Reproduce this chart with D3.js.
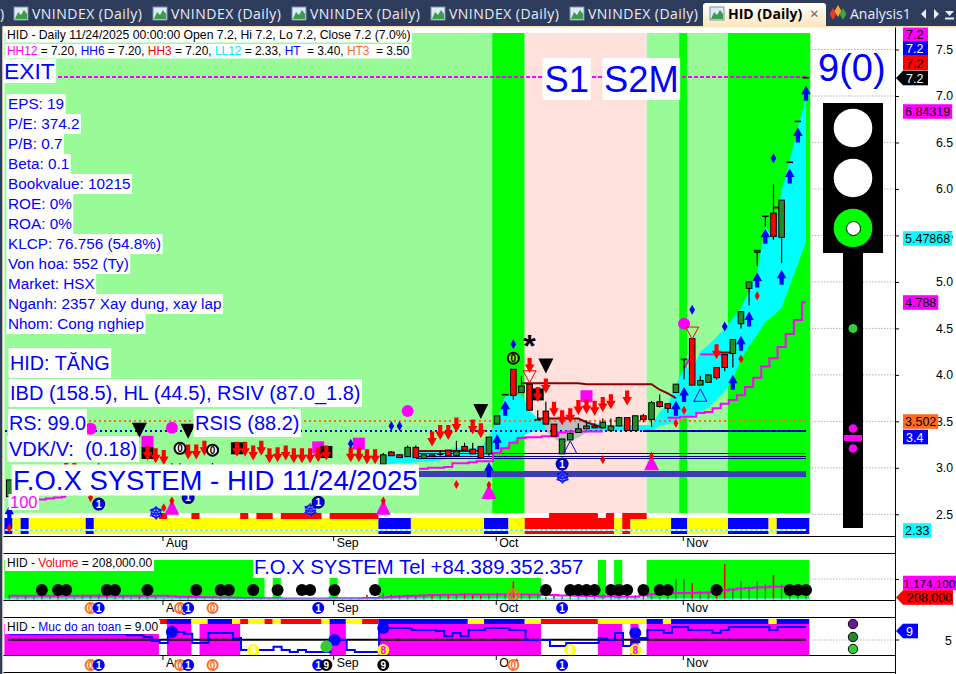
<!DOCTYPE html>
<html><head><meta charset="utf-8">
<script src="https://cdn.jsdelivr.net/npm/d3@7/dist/d3.min.js"></script>
<style>html,body{margin:0;padding:0;background:#fff;overflow:hidden}svg{display:block}text{font-family:"Liberation Sans",Arial,sans-serif}</style>
</head><body><svg id="c" width="956" height="674"></svg>
<script>
// ---------- DATA (bar index 0..98, prices in VND thousand) ----------
const opens=[2.69,2.93,2.95,2.92,2.96,2.94,2.98,2.95,2.92,2.94,2.96,3.0,2.97,2.95,2.93,2.96,2.98,2.95,2.92,2.94,3.0,3.0,2.97,2.95,2.96,3.0,2.98,2.95,2.93,2.96,2.98,2.94,2.92,2.95,2.97,2.94,2.92,2.95,2.97,2.94,2.96,2.98,2.95,2.97,2.99,2.96,3.04,3.17,3.14,3.12,3.22,3.10,3.14,3.15,3.19,3.13,3.23,3.20,3.23,3.15,3.47,3.79,4.06,3.81,3.90,3.52,3.61,3.47,3.15,3.30,3.38,3.42,3.45,3.43,3.40,3.45,3.54,3.40,3.56,3.52,3.71,3.69,3.81,4.17,4.39,3.89,3.92,4.08,4.22,4.23,4.55,4.93,5.32,5.71,5.74,5.48,6.29,6.73,7.20];
const highs=[2.87,2.97,2.98,2.97,3.0,2.98,3.01,2.98,2.96,2.98,3.0,3.05,3.0,2.98,2.97,3.0,3.01,2.98,2.96,2.98,3.05,3.05,3.0,2.98,3.0,3.05,3.01,2.98,2.97,3.0,3.01,2.98,2.96,2.98,3.0,2.98,2.96,2.98,3.0,2.98,3.0,3.01,2.98,3.0,3.02,3.0,3.16,3.18,3.14,3.24,3.24,3.14,3.14,3.19,3.19,3.29,3.27,3.27,3.23,3.33,3.56,3.79,4.06,3.99,3.90,3.62,3.71,3.47,3.30,3.38,3.48,3.51,3.48,3.53,3.53,3.55,3.54,3.56,3.58,3.72,3.79,3.69,3.90,4.17,4.39,3.99,4.00,4.08,4.22,4.38,4.68,5.00,5.34,5.71,6.05,5.88,6.29,6.73,7.20];
const lows=[2.69,2.9,2.92,2.9,2.93,2.91,2.95,2.92,2.89,2.91,2.93,2.97,2.94,2.92,2.9,2.93,2.95,2.92,2.89,2.91,2.97,2.97,2.94,2.92,2.93,2.97,2.95,2.92,2.9,2.93,2.95,2.91,2.89,2.92,2.94,2.91,2.89,2.92,2.94,2.91,2.93,2.95,2.92,2.94,2.96,2.93,3.04,3.13,3.11,3.12,3.11,3.10,3.12,3.12,3.13,3.13,3.19,3.15,3.11,3.13,3.47,3.79,3.73,3.81,3.62,3.52,3.47,3.34,3.15,3.30,3.38,3.42,3.43,3.43,3.40,3.45,3.40,3.40,3.49,3.44,3.65,3.59,3.81,3.95,3.89,3.89,3.92,3.95,4.04,4.08,4.50,4.75,5.17,5.59,5.45,5.20,6.29,6.73,7.20];
const closes=[2.87,2.95,2.93,2.95,2.94,2.96,2.96,2.97,2.94,2.96,2.98,3.0,2.95,2.97,2.95,2.98,2.96,2.97,2.94,2.96,3.0,3.0,2.95,2.97,2.98,3.0,2.96,2.97,2.95,2.98,2.96,2.96,2.94,2.97,2.95,2.96,2.94,2.97,2.95,2.96,2.98,2.96,2.97,2.99,2.97,2.98,3.14,3.13,3.11,3.22,3.11,3.14,3.12,3.15,3.13,3.18,3.19,3.15,3.11,3.33,3.56,3.79,3.78,3.88,3.62,3.52,3.47,3.34,3.31,3.37,3.42,3.45,3.43,3.49,3.45,3.54,3.40,3.56,3.52,3.70,3.66,3.64,3.90,4.17,3.89,3.94,4.00,3.97,4.08,4.38,4.68,5.00,5.34,5.71,5.49,5.88,6.29,6.73,7.20];
const volumes=[300,120,250,180,220,160,300,100,130,200,280,350,240,150,200,120,300,210,180,90,70,60,120,90,160,110,140,90,120,70,90,80,60,50,90,70,60,50,60,50,70,90,80,60,300,150,420,300,270,340,280,320,300,280,360,300,400,300,330,340,420,300,1150,280,330,300,170,260,190,270,160,210,130,340,220,240,230,280,270,290,120,190,1300,1300,1050,550,500,400,2250,700,1150,850,1150,1000,1550,1000,400,400,208];
const volumeMA=[240,240,240,240,240,240,240,240,240,240,240,240,240,240,240,240,240,240,240,230,200,180,170,160,150,140,130,120,110,100,90,80,80,80,70,70,70,70,70,70,80,80,80,80,90,100,130,160,190,220,240,260,280,290,300,300,310,310,310,310,320,320,330,320,310,300,290,280,260,250,240,220,200,200,190,190,180,180,250,330,370,390,410,410,410,420,450,500,580,640,690,730,760,780,800,800,800,800,800];
const volumeFill=[0,31,33,33,40,40,46,65,73,73,75,75,79,98];
const safetyLevel=[6.8,6.8,6.8,6.8,6.8,6.8,6.8,6.8,6.8,6.8,6.8,6.8,6.8,6.8,6.8,6.4,6.4,5.8,4.6,4.0,7.4,7.4,6.8,4.0,4.0,7.1,7.1,7.1,5.5,1.8,1.8,1.8,1.8,2.8,1.8,1.2,1.8,1.2,1.2,1.2,4.9,4.9,1.8,1.2,1.2,1.2,8.6,8.6,8.6,8.6,8.0,8.0,8.0,7.7,6.1,7.1,6.1,8.0,8.0,8.6,8.6,8.6,8.0,8.0,4.9,4.9,4.9,3.1,3.1,4.0,4.0,4.0,4.0,5.5,4.9,7.1,3.1,4.3,5.5,8.0,8.0,7.1,8.9,8.9,8.0,8.0,8.0,7.1,8.0,8.9,8.9,8.9,8.9,8.9,8.0,8.9,8.9,8.9,8.9];
const regimeRuns=[[0,59,"#98FB98"],[60,63,"#00FF00"],[64,78,"#FFE0DC"],[79,82,"#98FB98"],[83,83,"#00FF00"],[84,88,"#98FB98"],[89,98,"#00FF00"]];
const bandRuns=[[0,0,"b"],[1,1,"y"],[2,2,"b"],[3,9,"y"],[10,10,"b"],[11,45,"y"],[46,49,"b"],[50,58,"y"],[59,61,"b"],[62,63,"y"],[64,74,"r"],[75,75,"y"],[76,76,"r"],[77,81,"y"],[82,83,"b"],[84,88,"y"],[89,93,"b"],[94,94,"y"],[95,98,"b"]];
const redStripRuns=[[19,19],[23,23],[29,29],[31,32],[34,38],[40,45],[67,72],[74,74],[76,78]];
const safetyStrip=[[19,19,"r"],[20,22,"b"],[23,24,"y"],[25,27,"b"],[28,28,"y"],[29,29,"r"],[30,31,"y"],[32,32,"r"],[33,33,"y"],[34,38,"r"],[39,39,"y"],[40,41,"b"],[42,43,"y"],[44,45,"r"],[46,56,"b"],[57,58,"y"],[59,63,"b"],[64,65,"y"],[66,72,"r"],[73,78,"y"],[79,80,"b"],[81,81,"y"],[82,93,"b"],[94,94,"y"],[95,98,"b"]];
const safetyFill=[[0,18],[20,22],[24,28],[40,41],[46,65],[73,75],[77,77],[79,98]];
const ribbonStart=46;
const ribbonTop=[3.13,3.14,3.15,3.16,3.17,3.17,3.18,3.19,3.20,3.21,3.21,3.21,3.22,3.33,3.52,3.77,3.79,3.79,3.62,3.53,3.52,3.54,3.54,3.53,3.52,3.49,3.48,3.47,3.46,3.46,3.46,3.46,3.46,3.46,3.60,3.68,3.89,4.08,4.05,4.25,4.32,4.41,4.50,4.61,4.72,4.91,5.11,5.61,5.45,5.99,6.31,6.66,6.98];
const ribbonBot=[3.04,3.04,3.05,3.05,3.06,3.07,3.07,3.08,3.10,3.11,3.12,3.13,3.14,3.14,3.17,3.22,3.29,3.34,3.38,3.40,3.40,3.32,3.27,3.29,3.33,3.38,3.40,3.40,3.40,3.40,3.40,3.40,3.40,3.40,3.45,3.47,3.50,3.54,3.56,3.60,3.65,3.73,3.82,3.95,4.16,4.31,4.43,4.57,4.64,4.72,4.96,5.19,5.43];
const grayBars=[66,71];
const stepLine=[2.59,2.59,2.63,2.66,2.66,2.67,2.68,2.69,null,null,null,null,null,null,null,null,null,null,null,null,null,null,null,null,null,null,null,null,null,null,null,null,null,null,null,null,null,null,null,null,null,null,null,null,null,null,null,null,null,null,2.99,2.99,3.0,3.0,3.01,3.05,3.05,3.06,3.07,3.07,3.16,3.21,3.27,3.32,3.33,3.33,3.34,3.34,3.38,3.39,3.39,3.39,3.39,3.39,null,null,null,null,null,null,null,3.54,3.54,3.55,3.55,3.59,3.60,3.64,3.69,3.73,3.78,3.87,3.97,4.09,4.18,4.30,4.44,4.59,4.78];
const darkRedUpper=[[63,3.91],[70,3.91],[71,3.90],[79,3.90],[80,3.84],[81,3.80],[82,3.75]];
const darkRedLower=[[65,3.53],[70,3.53],[71,3.49],[72,3.46],[73,3.43]];
const darkRedLeft=[[50,3.18],[58,3.18]];
const darkRedShort=[[87,4.24],[89,4.24]];
const darkRedTop=[[94,5.80],[95,5.80]];
const magentaShort=[[85,4.22],[88,4.22]];
const magentaSlant=[[83,4.07],[84,4.22]];
const levelHH=7.2, levelHT3=3.502, levelHT=3.4, levelLL=2.33;
const navyLevels=[3.15,3.12,3.10];
const blueBandLevel=2.93;
const redArrows=[[7,2.97],[8,2.97],[17,3.16],[18,3.13],[19,3.11],[22,3.17],[23,3.17],[24,3.21],[28,3.20],[29,3.20],[30,3.16],[31,3.21],[32,3.13],[33,3.14],[34,3.16],[35,3.13],[36,3.13],[37,3.13],[38,3.14],[39,3.16],[42,3.14],[43,3.14],[44,3.12],[45,3.12],[52,3.31],[53,3.38],[54,3.38],[55,3.46],[57,3.44],[58,3.40],[64,4.10],[65,3.79],[66,3.88],[67,3.63],[68,3.54],[69,3.56],[70,3.65],[71,3.66],[72,3.64],[73,3.68],[74,3.71],[76,3.75],[87,4.25]];
const blueArrows=[[0,2.51],[59,2.98],[60,3.28],[61,3.64],[82,3.64],[83,3.79],[89,3.92],[90,4.34],[91,4.60],[92,5.02],[93,5.49],[95,5.05],[96,6.14],[97,6.58],[98,7.03]];
const blueDiamonds=[[94,6.33],[84,4.70],[88,4.52],[62,4.33],[47,3.45],[48,3.45],[42,3.26]];
const redDiamonds=[[92,4.85],[90,4.17],[83,3.62],[82,3.48],[73,3.09],[55,2.82],[10,2.68],[19,2.57],[0,2.35]];
const magentaTriangles=[[59,2.74],[46,2.57],[79,3.05],[20,2.57]];
const magentaCircles=[[10,3.42],[20,3.43],[49,3.61],[83,4.55]];
const magentaSquares=[[17,3.28],[38,3.22],[43,3.26],[71,3.77]];
const blackDownTriangles=[[16,3.41],[22,3.40],[58,3.61],[66,4.10]];
const blackSquares=[[17,3.16],[28,3.21],[39,3.17],[65,3.79]];
const zeroMarks=[[21,3.21],[25,3.19]];
const greenZeroMarks=[[62,4.18]];
const blueOnes=[[11,2.61],[22,2.68],[38,2.63],[68,3.04]];
const snowflakes=[[18,2.51],[37,2.55],[68,2.90]];
const asterisks=[[64,4.37]];
const redOutlineDown=[[64,3.98],[84,4.45]];
const blueOutlineUp=[[69,3.22],[85,3.78]];
const volumeDots=[4,6,7,12,13,17,23,26,27,30,33,36,37,40,45,66,69,70,71,72,74,75,76,78,80,81,87,96,97,98];
const row2Marks=[[10,"o"],[11,"b"],[21,"o"],[22,"b"],[25,"o"],[38,"b"],[68,"b"]];
const row3Marks=[[10,"o"],[11,"b"],[21,"o"],[22,"b"],[25,"o"],[38,"b"],[39,"k"],[46,"k"],[62,"o"],[68,"b"]];
const safetyBlueDots=[[20,7.4],[40,4.9],[46,8.6],[77,7.1]];
const safetyGreenDots=[[39,2.9]];
const safetyYellowEights=[[30,"#fff"],[46,"#FF00FF"],[69,"#fff"],[77,"#FF00FF"]];
const monthBars=[19,40,60,83], monthNames=["Aug","Sep","Oct","Nov"];
const priceTicks=[2.5,3,3.5,4,4.5,5,5.5,6,6.5,7,7.5];
const tabs=["VNINDEX (Daily)","VNINDEX (Daily)","VNINDEX (Daily)","VNINDEX (Daily)","VNINDEX (Daily)"];
const fundamentals=["EPS: 19","P/E: 374.2","P/B: 0.7","Beta: 0.1","Bookvalue: 10215","ROE: 0%","ROA: 0%","KLCP: 76.756 (54.8%)","Von hoa: 552 (Ty)","Market: HSX","Nganh: 2357 Xay dung, xay lap","Nhom: Cong nghiep"];
const priceTags=[["7.2",7.2,"#FF00FF","#000"],["7.2",7.2,"#0000FF","#fff"],["7.2",7.2,"#FF0000","#000"],["6.84319",6.84319,"#FF00FF","#000"],["5.47868",5.47868,"#00FFFF","#000"],["4.788",4.788,"#FF00FF","#000"],["3.502",3.502,"#FF6A22","#000"],["3.4",3.4,"#0000FF","#fff"],["2.33",2.33,"#00FFFF","#000"]];

// ---------- SCALES ----------
const svg=d3.select("#c");
const BLUE="#0000FF", MAG="#FF00FF", RED="#FF0000";
const x=d3.scaleLinear().domain([0,98]).range([9.3,806]);
const slot=x(1)-x(0), barL=i=>x(i)-0.6*slot;
const y=d3.scaleLinear().domain([7,2.5]).range([96,514.3]);
const yVol=d3.scaleLinear().domain([0,1e3]).range([599.5,583.7]);
const yS=d3.scaleLinear().domain([5,9]).range([639.7,626.7]);
const col={b:"#0000FF",y:"#FFFF00",r:"#FF0000"};

svg.append("rect").attr("width",956).attr("height",674).attr("fill","#fff");
const price=svg.append("g");
price.selectAll(".bg").data(regimeRuns).join("rect").attr("x",d=>barL(d[0])).attr("width",d=>barL(d[1]+1)-barL(d[0])+(d[1]==98?1:0)).attr("y",33).attr("height",480).attr("fill",d=>d[2]);
price.selectAll(".band").data(bandRuns).join("rect").attr("x",d=>Math.max(3,barL(d[0]))).attr("width",d=>barL(d[1]+1)-Math.max(3,barL(d[0]))).attr("y",518).attr("height",16).attr("fill",d=>col[d[2]]);
price.selectAll(".rs").data(redStripRuns).join("rect").attr("x",d=>barL(d[0])).attr("width",d=>barL(d[1]+1)-barL(d[0])).attr("y",513).attr("height",6).attr("fill",RED);
price.append("line").attr("x1",5).attr("x2",806).attr("y1",y(levelLL)).attr("y2",y(levelLL)).attr("stroke","#fff").attr("stroke-width",2);
price.append("line").attr("x1",5).attr("x2",806).attr("y1",y(levelLL)).attr("y2",y(levelLL)).attr("stroke","#00E5E5").attr("stroke-dasharray","3,2");
const ribbonIdx=d3.range(ribbonStart,ribbonStart+ribbonTop.length);
const area=d3.area().x(i=>x(i)).y0(i=>y(ribbonBot[i-ribbonStart])).y1(i=>y(ribbonTop[i-ribbonStart]));
price.append("path").attr("d",area(ribbonIdx)).attr("fill","#00FFFF");
price.append("path").attr("d",area(d3.range(grayBars[0],grayBars[1]+1))).attr("fill","#BDBDBD");
const hl=(x1,x2,v,c,w,dash)=>price.append("line").attr("x1",x1).attr("x2",x2).attr("y1",y(v)).attr("y2",y(v)).attr("stroke",c).attr("stroke-width",w).attr("stroke-dasharray",dash||null).attr("shape-rendering","crispEdges");
hl(x(8),806,levelHT3,"#FF6A22",2,"2,3");
hl(x(78),806,levelHT,"#000080",2);
hl(5,806,levelHT,BLUE,2,"2,3");
hl(x(50),806,navyLevels[0],"#000080",1);hl(x(50),806,navyLevels[1],"#000080",1);hl(x(50),806,navyLevels[2],"#000080",1);
hl(x(49),806,blueBandLevel,"#3A3FB5",6);
hl(52,806,levelHH,MAG,2,"4,2");
const pl=d3.line().x(d=>x(d[0])).y(d=>y(d[1]));
[darkRedUpper,darkRedLower,darkRedLeft,darkRedShort,darkRedTop].forEach(s=>price.append("path").attr("d",pl(s)).attr("fill","none").attr("stroke","#8B0000").attr("stroke-width",2));
[magentaShort,magentaSlant].forEach(s=>price.append("path").attr("d",pl(s)).attr("fill","none").attr("stroke",MAG).attr("stroke-width",2));
const step=d3.line().defined(d=>d!=null).x((d,i)=>x(i)).y(d=>y(d)).curve(d3.curveStep);
price.append("path").attr("d",step(stepLine)).attr("fill","none").attr("stroke",MAG).attr("stroke-width",2);
const cg=price.selectAll(".c").data(d3.range(opens.length)).join("g");
cg.append("line").attr("x1",x).attr("x2",x).attr("y1",i=>y(highs[i])).attr("y2",i=>y(lows[i])).attr("stroke","#000").attr("stroke-width",1.2);
cg.append("rect").attr("x",i=>x(i)-2.8).attr("width",5.6).attr("y",i=>y(Math.max(opens[i],closes[i]))).attr("height",i=>Math.max(0.6,Math.abs(y(opens[i])-y(closes[i])))).attr("fill",i=>closes[i]>=opens[i]?"#228B22":RED).attr("stroke","#000").attr("stroke-width",1);
const sym=(t,s)=>d3.symbol().type(t).size(s)();
const at=d=>`translate(${x(d[0])},${y(d[1])})`;
const arrowPath="M-2.1,-7.5H2.1V-1H4.8L0,7.5L-4.8,-1H-2.1Z";
const m=svg.append("g");
m.selectAll(".ma").data(magentaSquares).join("rect").attr("x",d=>x(d[0])-6).attr("y",d=>y(d[1])-6).attr("width",12).attr("height",12).attr("fill",MAG);
m.selectAll(".bs").data(blackSquares).join("rect").attr("x",d=>x(d[0])-6).attr("y",d=>y(d[1])-6).attr("width",12).attr("height",12).attr("fill","#000");
m.selectAll(".mc").data(magentaCircles).join("circle").attr("cx",d=>x(d[0])).attr("cy",d=>y(d[1])).attr("r",6).attr("fill",MAG);
m.selectAll(".mt").data(magentaTriangles).join("path").attr("transform",at).attr("d","M0,-8L7.5,7H-7.5Z").attr("fill",MAG);
m.selectAll(".mtd").data(magentaTriangles).join("path").attr("transform",d=>`translate(${x(d[0])},${y(d[1])-7})`).attr("d",sym(d3.symbolDiamond,22)).attr("fill",RED);
m.selectAll(".bd").data(blackDownTriangles).join("path").attr("transform",at).attr("d","M-7.5,-7H7.5L0,8Z").attr("fill","#000");
m.selectAll(".ra").data(redOutlineDown).join("path").attr("transform",at).attr("d","M-6.5,-6H6.5L0,6Z").attr("fill","none").attr("stroke",RED).attr("stroke-width",1);
m.selectAll(".bu").data(blueOutlineUp).join("path").attr("transform",at).attr("d","M0,-6.5L6.5,6H-6.5Z").attr("fill","none").attr("stroke",BLUE).attr("stroke-width",1);
m.selectAll(".rar").data(redArrows).join("path").attr("transform",at).attr("d",arrowPath).attr("fill",RED);
m.selectAll(".bar").data(blueArrows).join("path").attr("transform",d=>at(d)+" rotate(180)").attr("d",arrowPath).attr("fill",BLUE);
m.selectAll(".bdm").data(blueDiamonds).join("path").attr("transform",at).attr("d",sym(d3.symbolDiamond,28)).attr("fill",BLUE);
m.selectAll(".rdm").data(redDiamonds).join("path").attr("transform",at).attr("d",sym(d3.symbolDiamond,24)).attr("fill",RED);
function badge(g,cx,cy,t,fill,stroke,color,r){
  g.append("circle").attr("cx",cx).attr("cy",cy).attr("r",r||5.5).attr("fill",fill).attr("stroke",stroke).attr("stroke-width",2);
  g.append("text").attr("x",cx).attr("y",cy+3.5).attr("text-anchor","middle").attr("font-size",10).attr("font-weight","bold").attr("fill",color).text(t);
}
zeroMarks.forEach(d=>badge(m,x(d[0]),y(d[1]),"0","#fff","#000","#000"));
greenZeroMarks.forEach(d=>badge(m,x(d[0]),y(d[1]),"0","#7CFC00","#000","#000"));
snowflakes.forEach(d=>m.append("text").attr("x",x(d[0])).attr("y",y(d[1])+6).attr("text-anchor","middle").attr("font-size",17).attr("fill","#fff").attr("stroke",BLUE).attr("stroke-width",.8).style("font-family","DejaVu Sans").text("❄"));
asterisks.forEach(d=>m.append("text").attr("x",x(d[0])).attr("y",y(d[1])+17).attr("text-anchor","middle").attr("font-size",32).attr("font-weight","bold").attr("fill","#000").text("*"));

const boxes=svg.append("g");
function label(tx,cy,size,t,o={}){
  const g=boxes.append("g");
  const r=g.append("rect").attr("fill",o.bg||"#fff");
  const te=g.append("text").attr("x",tx).attr("y",cy+size*0.35).attr("font-size",size).attr("fill",o.color||BLUE).style("white-space","pre").text(t);
  const w=te.node().getComputedTextLength();
  const pad=o.pad==null?1.5:o.pad, h=o.h||size*1.25;
  r.attr("x",tx-pad).attr("y",cy-h/2).attr("width",w+2*pad).attr("height",h);
  return te;
}
blueOnes.forEach(d=>badge(m,x(d[0]),y(d[1]),"1",BLUE,"#000080","#fff"));
label(7,35,12.2,"HID - Daily 11/24/2025 00:00:00 Open 7.2, Hi 7.2, Lo 7.2, Close 7.2 (7.0%)",{color:"#000",h:15});
{
 const g=boxes.append("g");const r=g.append("rect").attr("fill","#fff");
 const te=g.append("text").attr("x",7).attr("y",55).attr("font-size",11.9).attr("fill","#000").style("white-space","pre");
 [["HH12",MAG],[" = 7.20, ","#000"],["HH6",BLUE],[" = 7.20, ","#000"],["HH3",RED],[" = 7.20, ","#000"],["LL12","#00E5FF"],[" = 2.33, ","#000"],["HT",BLUE],["  = 3.40, ","#000"],["HT3","#FF6A22"],["  = 3.50","#000"]].forEach(p=>te.append("tspan").attr("fill",p[1]).text(p[0]));
 const w=te.node().getComputedTextLength();r.attr("x",5).attr("y",44).attr("width",w+4).attr("height",14.5);
}
label(4,71,22.8,"EXIT",{h:24});
fundamentals.forEach((t,i)=>label(8,104+i*20,15.3,t,{h:20}));
label(10,363,19.8,"HID: TĂNG",{h:30});
label(10,393,20,"IBD (158.5), HL (44.5), RSIV (87.0_1.8)",{h:28});
label(9,423,19.8,"RS: 99.0",{h:28,pad:1});
label(195,423,20,"RSIS (88.2)",{h:28});
label(9,449,20,"VDK/V:  (0.18)",{h:26,pad:2});
label(13,480,27.5,"F.O.X SYSTEM - HID 11/24/2025",{h:31});
label(10,502,16.5,"100",{h:16,color:MAG});
label(544.5,79,36.3,"S1",{h:42,pad:2});
label(604,79,36.3,"S2M",{h:42,pad:1.5});
svg.append("text").attr("x",818).attr("y",81).attr("font-size",38).attr("fill",BLUE).text("9(0)");

const t=svg.append("g");
t.append("rect").attr("x",823).attr("y",103).attr("width",60).attr("height",150).attr("fill","#000");
t.append("rect").attr("x",843).attr("y",253).attr("width",20).attr("height",275).attr("fill","#000");
[128,178].forEach(cy=>t.append("circle").attr("cx",853).attr("cy",cy).attr("r",19.3).attr("fill","#fff"));
t.append("circle").attr("cx",853).attr("cy",228).attr("r",19.3).attr("fill","#00FF00");
t.append("circle").attr("cx",853.5).attr("cy",228.5).attr("r",7).attr("fill","#fff").attr("stroke","#000");
t.append("circle").attr("cx",853).attr("cy",328.5).attr("r",4.5).attr("fill","#32CD32");
t.append("circle").attr("cx",853).attr("cy",428.5).attr("r",4.3).attr("fill",MAG);
t.append("rect").attr("x",844).attr("y",435).attr("width",18).attr("height",6).attr("fill",MAG);
t.append("circle").attr("cx",853).attr("cy",448.5).attr("r",4.3).attr("fill",MAG);

const vp=svg.append("g");
for(let k=0;k<volumeFill.length;k+=2){const a=volumeFill[k],b=volumeFill[k+1];
  vp.append("rect").attr("x",Math.max(3,barL(a))).attr("width",barL(b+1)-Math.max(3,barL(a))).attr("y",560).attr("height",38.5).attr("fill","#00FF00");}
vp.selectAll(".v").data(volumes).join("line").attr("x1",(d,i)=>x(i)).attr("x2",(d,i)=>x(i)).attr("y1",yVol(0)).attr("y2",d=>yVol(d)).attr("stroke",(d,i)=>closes[i]>=opens[i]?"#228B22":RED).attr("stroke-width",1.6);
vp.append("path").attr("d",d3.line().x((d,i)=>x(i)).y(d=>yVol(d)).curve(d3.curveStep)(volumeMA)).attr("fill","none").attr("stroke",MAG).attr("stroke-width",2);
vp.selectAll(".vd").data(volumeDots).join("circle").attr("cx",d=>x(d)).attr("cy",590).attr("r",6).attr("fill","#000");
vp.append("line").attr("x1",3).attr("x2",810).attr("y1",599).attr("y2",599).attr("stroke","#00E5E5").attr("stroke-width",1);
badge(vp,x(62),595,"0","none","#FF6A22","#FF6A22");
{const g=svg.append("g");const r=g.append("rect").attr("fill","#fff");
 const te=g.append("text").attr("x",7).attr("y",567).attr("font-size",12).attr("fill","#000");
 te.append("tspan").text("HID - ");te.append("tspan").attr("fill",RED).text("Volume");te.append("tspan").text(" = 208,000.00");
 r.attr("x",5).attr("y",558).attr("width",te.node().getComputedTextLength()+4).attr("height",13);}
{const g=svg.append("g");const te0=g.append("rect").attr("fill","#fff");
 const te=g.append("text").attr("x",254).attr("y",574).attr("font-size",20.3).attr("fill",BLUE).text("F.O.X SYSTEM Tel +84.389.352.357");
 te0.attr("x",253).attr("y",558).attr("width",te.node().getComputedTextLength()+2).attr("height",20);}

const sp=svg.append("g");
sp.selectAll(".sf").data(safetyFill).join("rect").attr("x",d=>Math.max(3,barL(d[0]))).attr("width",d=>barL(d[1]+1)-Math.max(3,barL(d[0]))).attr("y",624).attr("height",31).attr("fill",MAG);
sp.selectAll(".ss").data(safetyStrip).join("rect").attr("x",d=>barL(d[0])).attr("width",d=>barL(d[1]+1)-barL(d[0])).attr("y",619).attr("height",5).attr("fill",d=>col[d[2]]);
sp.append("line").attr("x1",8).attr("x2",806).attr("y1",yS(5)).attr("y2",yS(5)).attr("stroke","#000").attr("stroke-width",2);
sp.append("path").attr("d",d3.line().x((d,i)=>x(i)).y(d=>yS(d)).curve(d3.curveStep)(safetyLevel)).attr("fill","none").attr("stroke",BLUE).attr("stroke-width",2);
sp.selectAll(".sb").data(safetyBlueDots).join("circle").attr("cx",d=>x(d[0])).attr("cy",d=>yS(d[1])).attr("r",6).attr("fill",BLUE);
sp.selectAll(".sg").data(safetyGreenDots).join("circle").attr("cx",d=>x(d[0])).attr("cy",d=>yS(d[1])).attr("r",6).attr("fill","#32CD32");
safetyYellowEights.forEach(d=>badge(sp,x(d[0]),650,"8","#FFFF00","#FFFF00",d[1],5));
{const g=svg.append("g");const r=g.append("rect").attr("fill","#fff");
 const te=g.append("text").attr("x",7).attr("y",631).attr("font-size",12).attr("fill","#000");
 te.append("tspan").text("HID - ");te.append("tspan").attr("fill",BLUE).text("Muc do an toan");te.append("tspan").text(" = 9.00");
 r.attr("x",5).attr("y",620).attr("width",te.node().getComputedTextLength()+4).attr("height",14);}
[["#6A1B9A",624],["#228B22",637],["#32CD32",649]].forEach(d=>svg.append("circle").attr("cx",853).attr("cy",d[1]).attr("r",4.7).attr("fill",d[0]).attr("stroke","#000"));

const f=svg.append("g").attr("stroke","#000").attr("stroke-width",1);
[536,553,600,617,655,672].forEach(v=>f.append("line").attr("x1",3).attr("x2",895).attr("y1",v+.5).attr("y2",v+.5));
f.append("line").attr("x1",895.5).attr("x2",895.5).attr("y1",27).attr("y2",674);
const xT=d3.scaleOrdinal().domain(monthBars).range(monthNames);
[[537,543],[601,608],[656,663]].forEach(([top,cy])=>{
  const ax=d3.axisBottom(d3.scaleLinear().domain([0,98]).range([8,804.7])).tickValues(monthBars).tickFormat(d=>xT(d)).tickSize(4);
  const g=svg.append("g").attr("transform",`translate(0,${top})`).call(ax);
  g.select(".domain").remove();
  g.selectAll("text").attr("text-anchor","start").attr("x",3).attr("y",cy-top-5).attr("dy","0.71em").attr("font-size",12.3).style("font-family",'"Liberation Sans"').attr("fill","#000");
});
row2Marks.forEach(d=>{const cx=x(d[0]);if(d[1]=="b")badge(svg,cx,608,"1",BLUE,BLUE,"#fff",5);else badge(svg,cx,608,"0","#fff","#FF6A22","#FF6A22",5);});
row3Marks.forEach(d=>{const cx=x(d[0]);
 if(d[1]=="b")badge(svg,cx,665,"1",BLUE,BLUE,"#fff",5);
 else if(d[1]=="o")badge(svg,cx,665,"0","#fff","#FF6A22","#FF6A22",5);
 else badge(svg,cx,665,"9","#000","#000","#fff",5);});

const gridG=svg.append("g");
priceTicks.forEach(v=>gridG.append("line").attr("x1",812).attr("x2",895).attr("y1",y(v)).attr("y2",y(v)).attr("stroke","#B0B0B0").attr("stroke-dasharray","1.5,1.5"));
[[579],[640]].forEach(d=>gridG.append("line").attr("x1",812).attr("x2",895).attr("y1",d[0]).attr("y2",d[0]).attr("stroke","#B0B0B0").attr("stroke-dasharray","1.5,1.5"));
gridG.lower();svg.select("rect").lower();
const pa=svg.append("g").attr("transform","translate(895,0)").call(d3.axisRight(y).tickValues(priceTicks).tickSize(4).tickPadding(37).tickFormat(d3.format(".1f")));
pa.select(".domain").remove();
pa.selectAll("text").attr("font-size",12.3).style("font-family",'"Liberation Sans"').attr("fill","#000");
svg.append("line").attr("x1",895).attr("x2",899).attr("y1",579.5).attr("y2",579.5).attr("stroke","#000");
svg.append("line").attr("x1",895).attr("x2",899).attr("y1",640).attr("y2",640).attr("stroke","#000");
svg.append("text").attr("x",945).attr("y",644.5).attr("font-size",12.3).text("5");
function tag(cy,t,bg,fg,o={}){
  const g=svg.append("g");const r=g.append("rect").attr("fill",bg);
  const te=g.append("text").attr("x",o.x||905).attr("y",cy+4.5).attr("font-size",o.size||12.5).attr("fill",fg).text(t);
  const w=te.node().getComputedTextLength();
  r.attr("x",903).attr("y",cy-7.3).attr("width",o.w||w+4).attr("height",14.6);
  if(o.arrow){g.append("path").attr("d",`M896,${cy}L903,${cy-7.3}V${cy+7.3}Z`).attr("fill",bg);}
}
tag(34.5,priceTags[0][0],priceTags[0][2],priceTags[0][3],{x:906,w:25});
tag(48.5,priceTags[1][0],priceTags[1][2],priceTags[1][3],{x:906,w:25});
tag(63,priceTags[2][0],priceTags[2][2],priceTags[2][3],{x:906,w:25});
tag(78,"7.2","#000","#fff",{x:906,w:25,arrow:true});
tag(111.5,priceTags[3][0],priceTags[3][2],priceTags[3][3]);
tag(238.5,priceTags[4][0],priceTags[4][2],priceTags[4][3]);
tag(302.5,priceTags[5][0],priceTags[5][2],priceTags[5][3]);
tag(421.5,priceTags[6][0],priceTags[6][2],priceTags[6][3]);
tag(437,priceTags[7][0],priceTags[7][2],priceTags[7][3],{x:906,w:25});
tag(530.5,priceTags[8][0],priceTags[8][2],priceTags[8][3]);
tag(583,"1,174,100",MAG,"#000",{x:903.5,w:53,size:11.6});
tag(597.5,"208,000",RED,"#000",{x:907,w:50,arrow:true});
tag(631,"9",BLUE,"#fff",{x:906,w:15,arrow:true});

const tb=svg.append("g");
tb.append("rect").attr("width",956).attr("height",26).attr("fill","#2E3C5C");
tb.append("rect").attr("y",26).attr("width",956).attr("height",1.5).attr("fill","#F8E3B6");
tb.append("rect").attr("width",2.5).attr("height",674).attr("fill","#2E3C5C");
tb.append("rect").attr("x",2.5).attr("y",26).attr("width",1).attr("height",648).attr("fill","#F8E3B6");
const tabFont='"Open Sans"';
function ico(xp){tb.append("rect").attr("x",xp).attr("y",7).attr("width",14).attr("height",13).attr("fill","#DDEBF7").attr("stroke","#7A8FA8");
 tb.append("path").attr("d",`M${xp+1},19L${xp+4},12L${xp+7},15L${xp+10},10L${xp+13},14V19Z`).attr("fill","#3E9B4B");}
const tabX=[32,171,310,449,588];
tabs.forEach((t,i)=>{ico(tabX[i]-18);tb.append("text").attr("x",tabX[i]).attr("y",19).attr("font-size",14).attr("textLength",110).attr("lengthAdjust","spacing").style("font-family",tabFont).attr("fill","#E8EDF5").text(t);});
tb.append("text").attr("x",0).attr("y",19).attr("font-size",14).style("font-family",tabFont).attr("fill","#E8EDF5").text(")");
const defs=svg.append("defs").append("linearGradient").attr("id","tabg").attr("x1",0).attr("x2",0).attr("y1",0).attr("y2",1);
defs.append("stop").attr("offset",0).attr("stop-color","#FFFFFF");defs.append("stop").attr("offset",1).attr("stop-color","#FBE6BA");
tb.append("path").attr("d","M703,27V6Q703,3 706,3H823Q826,3 826,6V27Z").attr("fill","url(#tabg)");
ico(710);
tb.append("text").attr("x",728).attr("y",19).attr("font-size",14).attr("font-weight","bold").style("font-family",tabFont).attr("fill","#000").text("HID (Daily)");
tb.append("text").attr("x",810).attr("y",19).attr("font-size",15).style("font-family",tabFont).attr("fill","#555").text("×");
[[833,"#E53935"],[838,"#F9A825"],[843,"#43A047"]].forEach((d,i)=>tb.append("path").attr("transform",`translate(${d[0]},${i==1?11:14})`).attr("d",sym(d3.symbolDiamond,40)).attr("fill",d[1]));
tb.append("text").attr("x",850).attr("y",19).attr("font-size",14).style("font-family",tabFont).attr("fill","#E8EDF5").text("Analysis1");
tb.append("path").attr("d","M926,9V19L921,14Z").attr("fill","#E8EDF5");
tb.append("path").attr("d","M934,9V19L939,14Z").attr("fill","#E8EDF5");
tb.append("path").attr("d","M945,11H954L949.5,16ZM945,17.5H954V19.5H945Z").attr("fill","#E8EDF5");
</script></body></html>
